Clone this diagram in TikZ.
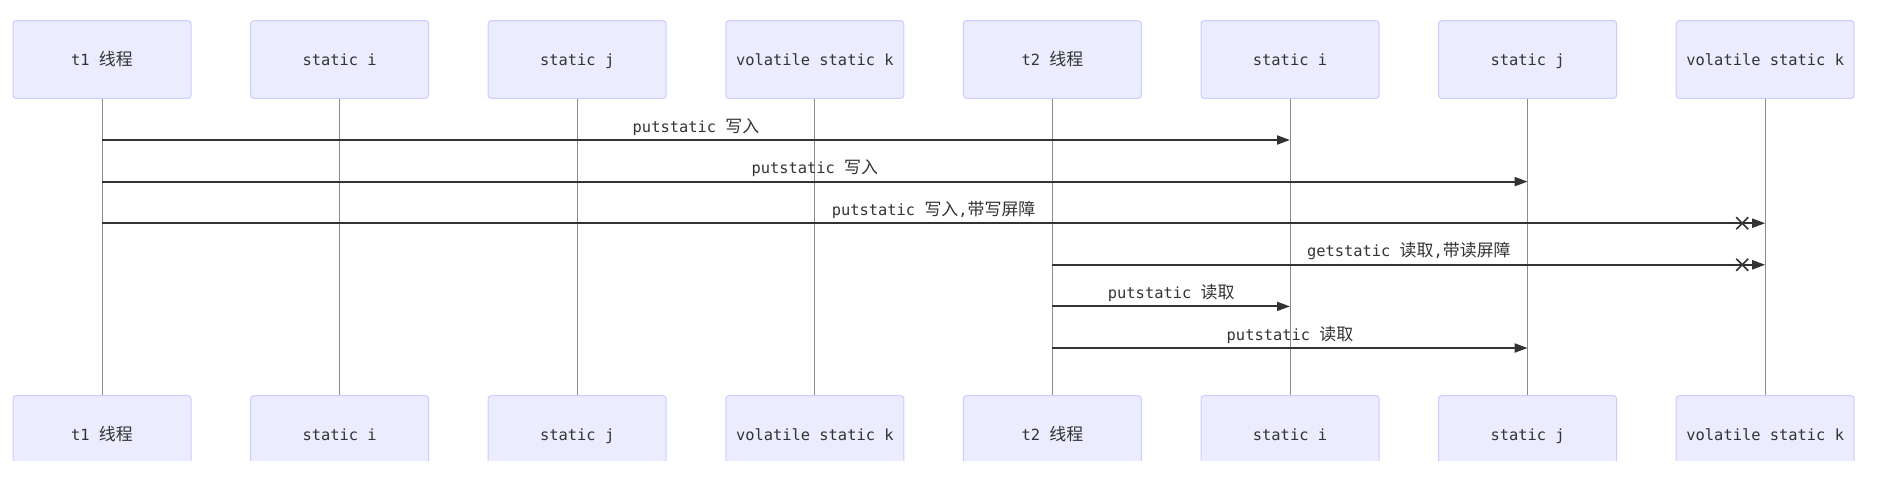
\documentclass[tikz,border=0pt]{standalone}
\usepackage{fontspec}
\setmainfont{DejaVu Sans Mono}
\newfontfamily\cjk[Scale=1.1]{Noto Sans CJK SC}
\usepackage{xcolor}
\usepackage{tikz}
\usetikzlibrary{arrows.meta}

\definecolor{actorfill}{HTML}{ECECFF}
\definecolor{actorline}{HTML}{CCCCFF}
\definecolor{msgcol}{HTML}{333333}
\definecolor{lifecol}{HTML}{8C8C8C}
\newcommand{\zh}[1]{{\cjk #1}}

\tikzset{
	actor/.style={draw=actorline, fill=actorfill, line width=1pt, rounded corners=3pt,
		minimum width=178pt, minimum height=77.6pt, inner sep=0pt, text=msgcol,
		text height=11.5pt, text depth=0pt,
		font=\fontsize{15.4}{18}\selectfont},
	lifeline/.style={draw=lifecol, line width=1pt},
	msg/.style={draw=msgcol, line width=2pt, -{Triangle[length=13pt,width=9pt]}},
	msglabel/.style={anchor=base, inner sep=0pt, text=msgcol, font=\fontsize{15.4}{18}\selectfont},
	cross/.style={draw=msgcol, line width=1.6pt}
}

\begin{document}
\begin{tikzpicture}[x=1pt, y=-1pt]
	\useasboundingbox (0,0) rectangle (1902,482);

	% Teilnehmer oben
	\foreach \i/\name in {1/{t1 \zh{线程}}, 2/{static i}, 3/{static j}, 4/{volatile static k},
		5/{t2 \zh{线程}}, 6/{static i}, 7/{static j}, 8/{volatile static k}}{
		\node[actor] (top\i) at ({102+237.6*(\i-1)},59.5) {\name};
	}

	% Teilnehmer unten (abgeschnitten)
	\begin{scope}
		\clip (0,0) rectangle (1902,460);
		\foreach \i/\name in {1/{t1 \zh{线程}}, 2/{static i}, 3/{static j}, 4/{volatile static k},
			5/{t2 \zh{线程}}, 6/{static i}, 7/{static j}, 8/{volatile static k}}{
			\node[actor] (bot\i) at ({102+237.6*(\i-1)},434.5) {\name};
		}
	\end{scope}

	% Lebenslinien
	\foreach \i in {1,...,8}{
		\draw[lifeline] (top\i) -- (bot\i);
	}

	% Nachrichten
	\foreach \id/\from/\to/\y/\txt in {
		1/1/6/140/{putstatic \zh{写入}},
		2/1/7/181.6/{putstatic \zh{写入}},
		3/1/8/223.2/{putstatic \zh{写入},\zh{带写屏障}},
		4/5/8/264.8/{getstatic \zh{读取},\zh{带读屏障}},
		5/5/6/306.4/{putstatic \zh{读取}},
		6/5/7/348/{putstatic \zh{读取}}
	}{
		\coordinate (s\id) at (top\from |- 0,\y);
		\coordinate (e\id) at (top\to |- 0,\y);
		\draw[msg] (s\id) -- (e\id) node[msglabel, midway, yshift=8pt] (lab\id) {\txt};
	}

	% Kreuze vor volatile k
	\foreach \id in {3,4}{
		\draw[cross] ([shift={(-29,-6)}]e\id) -- ([shift={(-17,6)}]e\id);
		\draw[cross] ([shift={(-29,6)}]e\id) -- ([shift={(-17,-6)}]e\id);
	}
\end{tikzpicture}
\end{document}
